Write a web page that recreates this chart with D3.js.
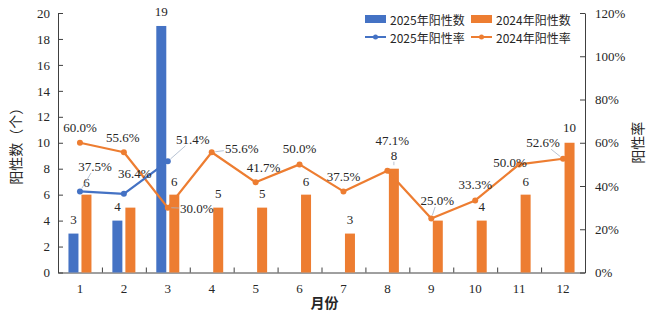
<!DOCTYPE html>
<html>
<head>
<meta charset="utf-8">
<script src="https://cdn.jsdelivr.net/npm/d3@7"></script>
<style>
  body { margin: 0; background: #fff; }
  svg { display: block; }
  .num { font-family: "Liberation Serif", "Times New Roman", serif; font-size: 13px; fill: #262626; }
  .cjk { font-family: "Noto Sans CJK SC", "Noto Sans", sans-serif; fill: #262626; }
  .axis path, .axis line { stroke: #404040; }
</style>
</head>
<body>
<script>
// data
var months = ["1","2","3","4","5","6","7","8","9","10","11","12"];
var pos2025 = [3, 4, 19];
var pos2024 = [6, 5, 6, 5, 5, 6, 3, 8, 4, 4, 6, 10];
var rate2025 = [0.375, 0.364, 0.514];
var rate2024 = [0.600, 0.556, 0.300, 0.556, 0.417, 0.500, 0.375, 0.471, 0.250, 0.333, 0.500, 0.526];
var leftTicks = [0, 2, 4, 6, 8, 10, 12, 14, 16, 18, 20];
var rightTicks = [0, 0.2, 0.4, 0.6, 0.8, 1.0, 1.2];

// label placement (offset from the mark, px), null = label hidden, 3rd item = leader line
var lab2024Rate = [[0,-15],[-1,-15],[29,1,1],[30,-4,1],[8,-15],[0,-16],[0,-15],[5,-30],[6,-18,1],[0,-16],[-9,-2],[-20,-16,1]];
var lab2025Rate = [[15,-25,1],[11,-20],[25,-22,1]];
var lab2024Bar = [[0,-12.5],null,[0,-13],[0,-14],[0,-14],[0,-13],[0,-14],[0,-13.5,1],null,[0,-14],[0,-13],[0,-15]];
var lab2025Bar = [[0,-14],[0,-14],[0,-14]];

var blue = "#4472C4", orange = "#ED7D31";

var svg = d3.select("body").append("svg")
    .attr("width", 653)
    .attr("height", 314);

var plotL = 58, plotR = 585, plotT = 13, plotB = 272.5;

var x = d3.scaleBand().domain(months).range([plotL, plotR]);
var y = d3.scaleLinear().domain([0, 20]).range([plotB, plotT]);
var yr = d3.scaleLinear().domain([0, 1.2]).range([plotB, plotT]);
var cx = function(i) { return x(months[i]) + x.bandwidth() / 2; };

var barW = 10;

// axes
var ga = svg.append("g").attr("class", "axis");
var la = ga.append("g").attr("transform", "translate(" + plotL + ",0)")
    .call(d3.axisLeft(y).tickValues(leftTicks).tickSize(-5).tickPadding(8).tickSizeOuter(0));
la.selectAll("text").attr("class", "num").attr("fill", null);
la.attr("font-size", null).attr("font-family", null);

var ra = ga.append("g").attr("transform", "translate(" + plotR + ",0)")
    .call(d3.axisRight(yr).tickValues(rightTicks).tickSize(-5).tickPadding(10).tickSizeOuter(0)
        .tickFormat(d3.format(".0%")));
ra.selectAll("text").attr("class", "num").attr("fill", null);
ra.attr("font-size", null).attr("font-family", null);

var xa = ga.append("g").attr("transform", "translate(0," + plotB + ")")
    .call(d3.axisBottom(x).tickSize(0).tickPadding(11));
xa.select(".domain").remove();
xa.selectAll("text").attr("class", "num").attr("fill", null);
xa.attr("font-size", null).attr("font-family", null);

var xb = d3.scaleLinear().domain([0, 12]).range([plotL, plotR]);
ga.append("g").attr("transform", "translate(0," + plotB + ")")
    .call(d3.axisBottom(xb).tickValues(d3.range(1, 12)).tickSize(-5).tickFormat("").tickSizeOuter(0));

// bars
svg.append("g").selectAll("rect").data(pos2025).join("rect")
    .attr("x", function(d, i) { return cx(i) - 1.5 - barW; })
    .attr("y", function(d) { return y(d); })
    .attr("width", barW)
    .attr("height", function(d) { return plotB - y(d); })
    .attr("fill", blue);

svg.append("g").selectAll("rect").data(pos2024).join("rect")
    .attr("x", function(d, i) { return cx(i) + 1.5; })
    .attr("y", function(d) { return y(d); })
    .attr("width", barW)
    .attr("height", function(d) { return plotB - y(d); })
    .attr("fill", orange);

// lines
function drawLine(vals, color) {
    var line = d3.line().x(function(d, i) { return cx(i); }).y(function(d) { return yr(d); });
    var g = svg.append("g");
    g.append("path").datum(vals)
        .attr("fill", "none").attr("stroke", color).attr("stroke-width", 2.25)
        .attr("stroke-linejoin", "round").attr("d", line);
    g.selectAll("circle").data(vals).join("circle")
        .attr("cx", function(d, i) { return cx(i); })
        .attr("cy", function(d) { return yr(d); })
        .attr("r", 3).attr("fill", color);
}
drawLine(rate2024, orange);
drawLine(rate2025, blue);

// data labels
var labels = svg.append("g");
function addLabels(vals, offs, px, py, fmt) {
    vals.forEach(function(v, i) {
        var o = offs[i];
        if (!o) return;
        var ax = px(v, i), ay = py(v);
        var tx = ax + o[0], ty = ay + o[1];
        var t = labels.append("text").attr("class", "num")
            .attr("x", tx).attr("y", ty)
            .attr("text-anchor", "middle").attr("dominant-baseline", "central")
            .text(fmt(v));
        if (o[2]) {
            var b = t.node().getBBox();
            var dx = tx - ax, dy = ty - ay;
            var hw = b.width / 2 + 1, hh = b.height / 2 - 1;
            var s = Math.min(dx ? hw / Math.abs(dx) : 1e9, dy ? hh / Math.abs(dy) : 1e9);
            var len = Math.sqrt(dx * dx + dy * dy);
            var s0 = 3.5 / len;
            labels.append("line")
                .attr("x1", ax + dx * s0).attr("y1", ay + dy * s0)
                .attr("x2", tx - dx * s).attr("y2", ty - dy * s)
                .attr("stroke", "#a6b4c8").attr("stroke-width", 0.8);
        }
    });
}
var pct = d3.format(".1%");
var int = d3.format("d");
addLabels(pos2025, lab2025Bar, function(d, i) { return cx(i) - 1.5 - barW / 2; }, y, int);
addLabels(pos2024, lab2024Bar, function(d, i) { return cx(i) + 1.5 + barW / 2; }, y, int);
addLabels(rate2024, lab2024Rate, function(d, i) { return cx(i); }, yr, pct);
addLabels(rate2025, lab2025Rate, function(d, i) { return cx(i); }, yr, pct);

// axis titles
svg.append("text").attr("class", "cjk")
    .attr("transform", "translate(15," + ((plotT + plotB) / 2) + ") rotate(-90)")
    .attr("text-anchor", "middle").attr("dominant-baseline", "central")
    .attr("font-size", 14).text("阳性数（个）");
svg.append("text").attr("class", "cjk")
    .attr("transform", "translate(637," + ((plotT + plotB) / 2) + ") rotate(-90)")
    .attr("text-anchor", "middle").attr("dominant-baseline", "central")
    .attr("font-size", 14).text("阳性率");
svg.append("text").attr("class", "cjk")
    .attr("x", (plotL + plotR) / 2 + 3).attr("y", 302)
    .attr("text-anchor", "middle").attr("dominant-baseline", "central")
    .attr("font-size", 14).attr("font-weight", 700).text("月份");

// legend
var legendItems = [
    {name: "2025年阳性数", color: blue, type: "bar", x: 365, y: 19},
    {name: "2024年阳性数", color: orange, type: "bar", x: 471, y: 19},
    {name: "2025年阳性率", color: blue, type: "line", x: 365, y: 37},
    {name: "2024年阳性率", color: orange, type: "line", x: 471, y: 37}
];
var lg = svg.append("g").selectAll("g").data(legendItems).join("g")
    .attr("transform", function(d) { return "translate(" + d.x + "," + d.y + ")"; });
lg.filter(function(d) { return d.type == "bar"; }).append("rect")
    .attr("x", 0).attr("y", -4).attr("width", 21).attr("height", 8)
    .attr("fill", function(d) { return d.color; });
lg.filter(function(d) { return d.type == "line"; }).append("line")
    .attr("x1", 0).attr("x2", 21).attr("stroke-width", 2)
    .attr("stroke", function(d) { return d.color; });
lg.filter(function(d) { return d.type == "line"; }).append("circle")
    .attr("cx", 10.5).attr("r", 2.5)
    .attr("fill", function(d) { return d.color; });
lg.append("text").attr("class", "cjk")
    .attr("x", 25).attr("dominant-baseline", "central")
    .attr("font-size", 12).text(function(d) { return d.name; });
</script>
</body>
</html>
